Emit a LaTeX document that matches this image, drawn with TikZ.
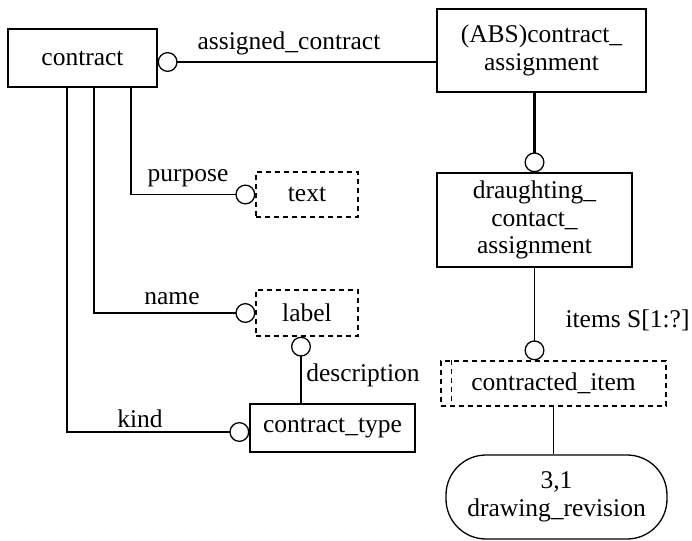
\documentclass[tikz,border=0pt]{standalone}
\usepackage{fontspec}
\setmainfont{Liberation Serif}
\usepackage{tikz}
\usetikzlibrary{arrows.meta}
\tikzstyle{entity} = [draw, line width=1.3pt, inner sep=0pt, align=center, font=\fontsize{25.5}{27.5}\selectfont]
\tikzstyle{deftype} = [entity, dash pattern=on 5pt off 4pt]
\tikzstyle{rel} = [line width=1.3pt, -{Circle[open,length=20pt,width=20pt,line width=1.3pt]}]
\tikzstyle{lbl} = [inner sep=0pt, font=\fontsize{25.5}{27.5}\selectfont]

\begin{document}
\begin{tikzpicture}[x=1pt, y=-1pt]
			\useasboundingbox (0,0) rectangle (692,540);
			%entities and defined types
			\node[entity, minimum width=149pt, minimum height=58pt] (contract) at (82.5,58) {contract};
			\node[entity, minimum width=209pt, minimum height=83pt] (absca) at (541.5,50.5) {(ABS)contract\_\\assignment};
			\node[entity, minimum width=195pt, minimum height=94pt] (dca) at (534.5,220) {draughting\_\\contact\_\\assignment};
			\node[deftype, minimum width=102pt, minimum height=45pt] (text) at (307,194.5) {text};
			\node[deftype, minimum width=102pt, minimum height=46pt] (label) at (307,313) {label};
			\node[entity, minimum width=165pt, minimum height=48pt] (ctype) at (332.5,428) {contract\_type};
			\node[deftype, minimum width=225pt, minimum height=45pt] (citem) at (553.5,383.5) {contracted\_item};
			\node[entity, rounded corners=40pt, minimum width=221pt, minimum height=84pt] (rev) at (556.5,497) {3,1\\drawing\_revision};
			%select bar
			\draw[line width=1.3pt, dash pattern=on 5pt off 4pt] ([xshift=11pt]citem.north west) -- ([xshift=11pt]citem.south west);
			
			%relations
			\coordinate (ac) at ([yshift=-4pt]contract.east);
			\draw[rel] (absca.west |- ac) -- (ac);
			\draw[rel, line width=3pt] (dca.north |- absca.south) -- (dca.north);
			\coordinate (pp) at ([xshift=48.5pt]contract.south);
			\draw[rel] (pp) |- (text.west);
			\coordinate (nm) at ([xshift=11.5pt]contract.south);
			\draw[rel] (nm) |- (label.west);
			\coordinate (kd) at ([xshift=-15.5pt]contract.south);
			\coordinate (kt) at ([yshift=-4pt]ctype.west);
			\draw[rel] (kd) |- (kt);
			\coordinate (ds) at ([xshift=-6pt]label.south);
			\draw[rel] (ds |- ctype.north) -- (ds);
			\draw[rel] (dca.south) -- (dca.south |- citem.north);
			\draw[line width=1.3pt] (citem.south) -- (citem.south |- rev.north);
			
			%attribute names
			\node[lbl] (lac) at (289,43) {assigned\_contract};
			\node[lbl] (lpp) at (188,178) {purpose};
			\node[lbl] (lnm) at (172,299) {name};
			\node[lbl] (lkd) at (140,419) {kind};
			\node[lbl] (lds) at (363,375) {description};
			\node[lbl] (lit) at (627.5,320) {items S[1:?]};
			
\end{tikzpicture}
\end{document}
